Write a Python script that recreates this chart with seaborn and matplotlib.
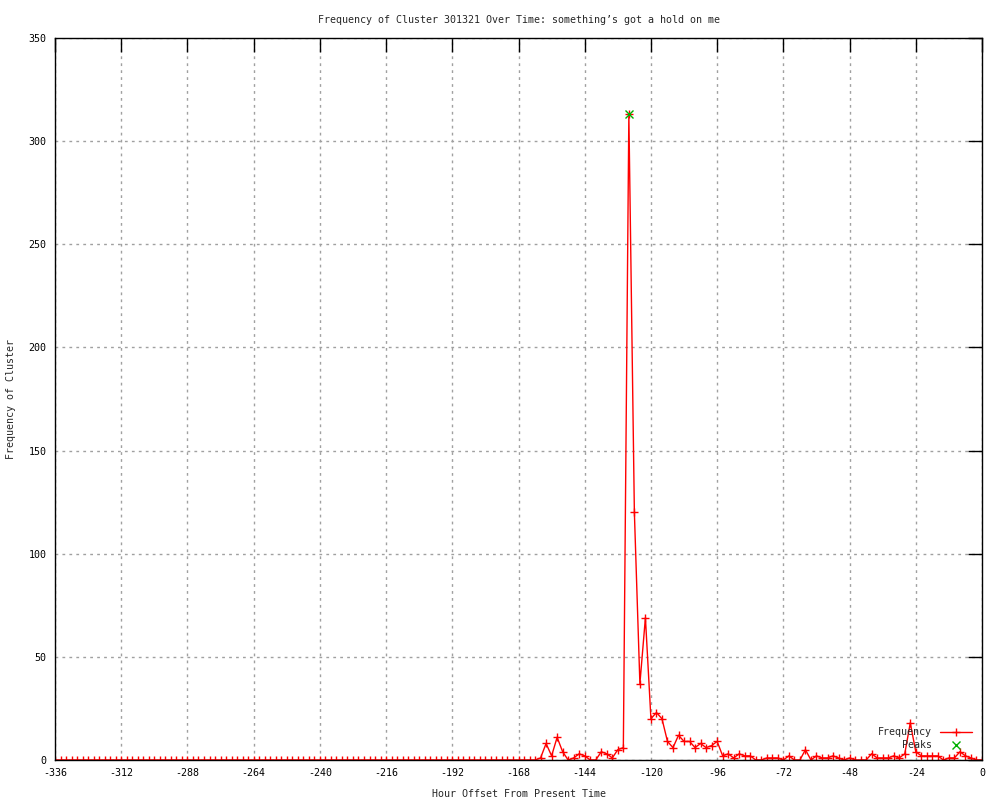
import numpy as np
import pandas as pd
import seaborn as sns
import matplotlib.pyplot as plt

# hour offsets, one reading every 2 hours
hours = np.arange(-336, 1, 2)

# frequency (-336 .. 0)
freq = [
    0, 0, 0, 0, 0, 0, 0, 0, 0, 0, 0,
    0, 0, 0, 0, 0, 0, 0, 0, 0, 0, 0,
    0, 0, 0, 0, 0, 0, 0, 0, 0, 0, 0,
    0, 0, 0, 0, 0, 0, 0, 0, 0, 0, 0,
    0, 0, 0, 0, 0, 0, 0, 0, 0, 0, 0,
    0, 0, 0, 0, 0, 0, 0, 0, 0, 0, 0,
    0, 0, 0, 0, 0, 0, 0, 0, 0, 0, 0,
    0, 0, 0, 0, 0, 0, 0, 0, 0, 0, 0,
    1, 8, 2, 11, 4, 0, 1, 3, 2, 0,
    0, 4, 3, 1, 5, 6, 313, 120, 37, 69,
    20, 23, 20, 9, 6, 12, 9, 9, 6, 8,
    6, 7, 9, 2, 3, 1, 3, 2, 2, 0,
    0, 1, 1, 1, 0, 2, 0, 0, 5, 0,
    2, 1, 1, 2, 1, 0, 1, 0, 0, 0,
    3, 1, 1, 1, 2, 1, 3, 18, 4, 2,
    2, 2, 2, 0, 1, 1, 4, 2, 1, 0,
    0,
]

peak_hours = [-128]
peak_vals = [313]

assert len(freq) == len(hours)

df = pd.DataFrame({'hour': hours, 'freq': freq})
peaks = pd.DataFrame({'hour': peak_hours, 'freq': peak_vals})

sns.set_style('white')
plt.rcParams['font.family'] = ['DejaVu Sans Mono']
plt.rcParams['axes.unicode_minus'] = False
fs = 7.2

fig = plt.figure(figsize=(10, 8), dpi=100)
ax = fig.add_axes([0.055, 0.05, 0.927, 0.9025])

sns.lineplot(data=df, x='hour', y='freq', ax=ax, color='#ff0000', linewidth=1,
             marker='+', markersize=6, markeredgewidth=1, markeredgecolor='#ff0000',
             label='Frequency')
ax.plot(peaks['hour'], peaks['freq'], linestyle='none', marker='x', color='#00b000',
        markersize=6, markeredgewidth=1, label='Peaks', zorder=5)

ax.set_xlim(-336, 0)
ax.set_ylim(0, 350)
ax.set_xticks(np.arange(-336, 1, 24))
ax.set_yticks(np.arange(0, 351, 50))
ax.tick_params(direction='in', length=10, width=1, top=True, right=True,
               labelsize=fs, colors='black', pad=6)
for s in ax.spines.values():
    s.set_color('black')
    s.set_linewidth(1)

ax.grid(True, color='#a0a0a0', linestyle=(0, (2, 3)), linewidth=1)

ax.set_title("Frequency of Cluster 301321 Over Time: something’s got a hold on me",
             fontsize=fs, pad=11)
ax.set_xlabel('Hour Offset From Present Time', fontsize=fs, labelpad=8)
ax.set_ylabel('Frequency of Cluster', fontsize=fs, labelpad=9)

leg = ax.legend(loc='lower right', frameon=False, markerfirst=False, fontsize=fs,
                handlelength=3.2, labelspacing=0.3, borderaxespad=0.6, numpoints=1)

fig.savefig('out.png', dpi=100)
